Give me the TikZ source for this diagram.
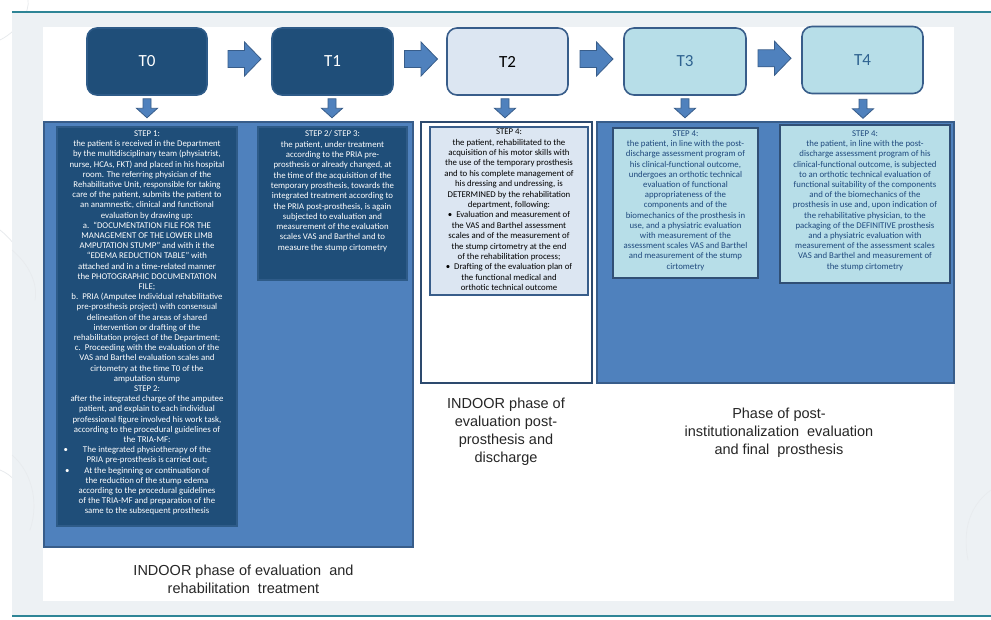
\documentclass[tikz,border=0pt]{standalone}
\usepackage{fontspec}
\setmainfont{Carlito}
\newfontfamily\arialf{Liberation Sans}
\usetikzlibrary{calc}
\definecolor{dkblue}{HTML}{1F4E79}
\definecolor{dkedge}{HTML}{2E5B88}
\definecolor{midblue}{HTML}{4F81BD}
\definecolor{edgeblue}{HTML}{385D8A}
\definecolor{paleblue}{HTML}{DCE6F2}
\definecolor{paleteal}{HTML}{B7DEE8}
\definecolor{navytext}{HTML}{1F497D}
\definecolor{ttext}{HTML}{2E6290}
\definecolor{bggray}{HTML}{EDF1F4}
\definecolor{tealline}{HTML}{2E8596}
\definecolor{decor}{HTML}{E6E9EC}
\tikzset{
  tbox/.style={rounded corners=10pt, minimum width=120pt, minimum height=67pt,
    line width=1.6pt, font=\fontsize{17}{20}\selectfont, inner sep=0pt},
  tdark/.style={tbox, fill=dkblue, draw=dkedge, text=white},
  tpale/.style={tbox, fill=paleblue, draw=edgeblue, text=black},
  tteal/.style={tbox, fill=paleteal, draw=edgeblue, text=ttext},
  panelblue/.style={fill=midblue, draw=edgeblue, line width=1.5pt, inner sep=0pt},
  panelwhite/.style={fill=white, draw=edgeblue!80!black, line width=2.2pt, inner sep=0pt},
  innerdark/.style={fill=dkblue, draw=dkedge, line width=1.8pt, inner sep=0pt},
  innerpale/.style={fill=paleblue, draw=edgeblue, line width=1.6pt, inner sep=0pt},
  innerteal/.style={fill=paleteal, draw=edgeblue!85!black, line width=1.8pt, inner sep=0pt},
  steptext/.style={align=center, inner sep=0pt, anchor=north,
    font=\fontsize{8.8}{10.2}\selectfont},
  phaselabel/.style={align=center, inner sep=0pt, anchor=north,
    font=\arialf\fontsize{14.5}{18}\selectfont, text=black!85},
  blockarrow/.style={fill=midblue, draw=edgeblue, line width=0.8pt},
  rarrow/.pic={\draw[blockarrow] (-16.5,-8.5)--(0,-8.5)--(0,-17)--(16.5,0)--(0,17)--(0,8.5)--(-16.5,8.5)--cycle;},
  darrow/.pic={\draw[blockarrow] (-4,0)--(4,0)--(4,9.5)--(10.5,9.5)--(0,19)--(-10.5,9.5)--(-4,9.5)--cycle;}
}
\begin{document}
\begin{tikzpicture}[x=1pt,y=-1pt]
\useasboundingbox (0,0) rectangle (991,619);
\fill[white] (0,0) rectangle (991,619);
% faint background decoration
\draw[decor, line width=0.7pt] (0,40) .. controls (20,30) and (30,10) .. (28,0);
\draw[decor, line width=0.7pt] (0,230) .. controls (25,250) and (35,280) .. (30,300);
\draw[decor, line width=0.7pt] (0,470) .. controls (25,480) and (30,510) .. (20,535);
\fill[bggray] (12,12) rectangle (991,616);
\draw[decor!70!bggray, line width=0.7pt] (12,250) .. controls (30,265) and (38,285) .. (35,300);
\draw[decor!70!bggray, line width=0.7pt] (12,455) .. controls (30,470) and (40,500) .. (30,530);
\draw[decor!70!bggray, line width=0.7pt] (991,490) .. controls (970,505) and (962,530) .. (968,560);
\draw[tealline, line width=1.2pt] (12,12) -- (991,12);
\draw[tealline, line width=1.2pt] (12,616) -- (991,616);
\fill[white] (43,27) rectangle (954,601);

% time boxes
\node[tdark] (T0) at (147,61.5) {T0};
\node[tdark, minimum width=121pt] (T1) at (332.5,61.5) {T1};
\node[tpale, minimum width=121pt] (T2) at (507.5,61.5) {T2};
\node[tteal, minimum width=122pt] (T3) at (685,61.5) {T3};
\node[tteal, minimum width=121pt] (T4) at (862.5,60) {T4};

% right block arrows
\pic at ($(T0.east)!0.5!(T1.west)+(5,-2.5)$) {rarrow};
\pic at ($(T1.east)!0.5!(T2.west)+(1,-2.5)$) {rarrow};
\pic at ($(T2.east)!0.5!(T3.west)+(0.5,-2.5)$) {rarrow};
\pic at ($(T3.east)!0.5!(T4.west)+(0.5,-2.5)$) {rarrow};

% down block arrows
\pic at ($(T0.south)+(0,3)$) {darrow};
\pic at ($(T1.south)+(-0.5,3)$) {darrow};
\pic at ($(T2.south)+(-2.5,3)$) {darrow};
\pic at ($(T3.south)+(0,3)$) {darrow};
\pic at ($(T4.south)+(0.5,5)$) {darrow};

% phase panels
\node[panelblue, minimum width=369pt, minimum height=425pt] (P01) at (228.5,334.5) {};
\node[panelwhite, minimum width=171pt, minimum height=261pt] (P2) at (506.5,252.5) {};
\node[panelblue, minimum width=357pt, minimum height=261pt] (P34) at (775.5,252.5) {};

% inner step boxes
\node[innerdark, minimum width=180pt, minimum height=399pt] (B0) at (147,326.5) {};
\node[innerdark, minimum width=149pt, minimum height=153pt] (B1) at (332.5,203.5) {};
\node[innerpale, minimum width=158pt, minimum height=168pt] (B2) at (509,211) {};
\node[innerteal, minimum width=145pt, minimum height=150pt] (B3) at (685.5,203) {};
\node[innerteal, minimum width=170pt, minimum height=158pt] (B4) at (865,204) {};

% step texts
\node[steptext, text=white] (S0) at ($(B0.north)+(0,4.5)$) {STEP 1:\\
the patient is received in the Department\\
by the multidisciplinary team (physiatrist,\\
nurse, HCAs, FKT) and placed in his hospital\\
room. The referring physician of the\\
Rehabilitative Unit, responsible for taking\\
care of the patient, submits the patient to\\
an anamnestic, clinical and functional\\
evaluation by drawing up:\\
a.\ \ “DOCUMENTATION FILE FOR THE\\
MANAGEMENT OF THE LOWER LIMB\\
AMPUTATION STUMP” and with it the\\
“EDEMA REDUCTION TABLE” with\\
attached and in a time-related manner\\
the PHOTOGRAPHIC DOCUMENTATION\\
FILE;\\
b.\ \ PRIA (Amputee Individual rehabilitative\\
pre-prosthesis project) with consensual\\
delineation of the areas of shared\\
intervention or drafting of the\\
rehabilitation project of the Department;\\
c.\ \ Proceeding with the evaluation of the\\
VAS and Barthel evaluation scales and\\
cirtometry at the time T0 of the\\
amputation stump\\
STEP 2:\\
after the integrated charge of the amputee\\
patient, and explain to each individual\\
professional figure involved his work task,\\
according to the procedural guidelines of\\
the TRIA-MF:\\
\llap{•\hspace{15pt}}The integrated physiotherapy of the\\
PRIA pre-prosthesis is carried out;\\
\llap{•\hspace{15pt}}At the beginning or continuation of\\
the reduction of the stump edema\\
according to the procedural guidelines\\
of the TRIA-MF and preparation of the\\
same to the subsequent prosthesis};

\node[steptext, text=white, font=\fontsize{8.8}{10.3}\selectfont] (S1) at ($(B1.north)+(0,4.5)$) {STEP 2/ STEP 3:\\
the patient, under treatment\\
according to the PRIA pre-\\
prosthesis or already changed, at\\
the time of the acquisition of the\\
temporary prosthesis, towards the\\
integrated treatment according to\\
the PRIA post-prosthesis, is again\\
subjected to evaluation and\\
measurement of the evaluation\\
scales VAS and Barthel and to\\
measure the stump cirtometry};

\node[steptext, text=black, font=\fontsize{8.8}{10.4}\selectfont] (S2) at ($(B2.north)+(0,2.5)$) {STEP 4:\\
the patient, rehabilitated to the\\
acquisition of his motor skills with\\
the use of the temporary prosthesis\\
and to his complete management of\\
his dressing and undressing, is\\
DETERMINED by the rehabilitation\\
department, following:\\
•\ \ Evaluation and measurement of\\
the VAS and Barthel assessment\\
scales and of the measurement of\\
the stump cirtometry at the end\\
of the rehabilitation process;\\
•\ \ Drafting of the evaluation plan of\\
the functional medical and\\
orthotic technical outcome};

\node[steptext, text=navytext] (S3) at ($(B3.north)+(0,3.5)$) {STEP 4:\\
the patient, in line with the post-\\
discharge assessment program of\\
his clinical-functional outcome,\\
undergoes an orthotic technical\\
evaluation of functional\\
appropriateness of the\\
components and of the\\
biomechanics of the prosthesis in\\
use, and a physiatric evaluation\\
with measurement of the\\
assessment scales VAS and Barthel\\
and measurement of the stump\\
cirtometry};

\node[steptext, text=navytext] (S4) at ($(B4.north)+(0,6.5)$) {STEP 4:\\
the patient, in line with the post-\\
discharge assessment program of his\\
clinical-functional outcome, is subjected\\
to an orthotic technical evaluation of\\
functional suitability of the components\\
and of the biomechanics of the\\
prosthesis in use and, upon indication of\\
the rehabilitative physician, to the\\
packaging of the DEFINITIVE prosthesis\\
and a physiatric evaluation with\\
measurement of the assessment scales\\
VAS and Barthel and measurement of\\
the stump cirtometry};

% phase labels
\node[phaselabel] (L01) at (243.5,564.4) {INDOOR phase of evaluation\ \ and\\rehabilitation\ \ treatment};
\node[phaselabel] (L2) at (506,397.4) {INDOOR phase of\\evaluation post-\\prosthesis and\\discharge};
\node[phaselabel] (L34) at (779,407.4) {Phase of post-\\institutionalization\ \ evaluation\\and final\ \ prosthesis};
\end{tikzpicture}
\end{document}
